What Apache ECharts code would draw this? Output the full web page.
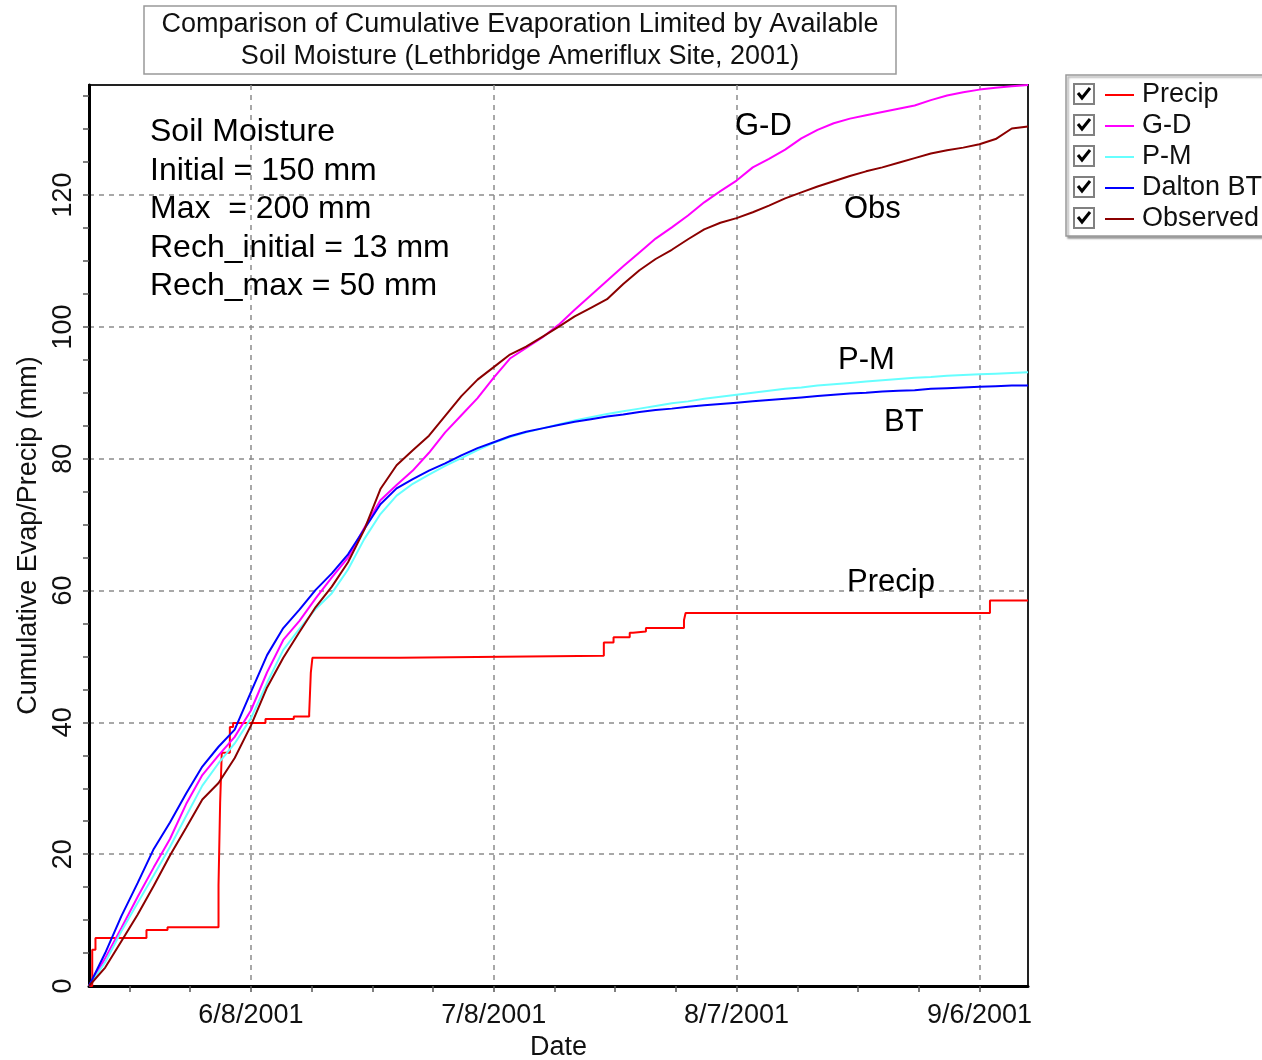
<!DOCTYPE html>
<html>
<head>
<meta charset="utf-8">
<script src="https://cdn.jsdelivr.net/npm/echarts@6/dist/echarts.min.js"></script>
<style>
  html, body { margin: 0; padding: 0; background: #fff; }
  #chart { width: 1262px; height: 1060px; }
</style>
</head>
<body>
<div id="chart"></div>
<script>
// Day of year 2001 (139 = May 19, 255 = Sep 12), sampled every two days
const evapDay = [139,141,143,145,147,149,151,153,155,157,159,161,163,165,167,169,171,173,175,177,
  179,181,183,185,187,189,191,193,195,197,199,201,203,205,207,209,211,213,215,217,
  219,221,223,225,227,229,231,233,235,237,239,241,243,245,247,249,251,253,255];

// Cumulative evaporation (mm)
const gd = [0,4.2,8.8,13.5,18.0,22.3,27.6,32.0,35.0,37.8,41.8,47.6,52.5,55.4,58.8,62.0,65.0,69.5,73.7,76.0,
  78.2,80.9,84.0,86.6,89.2,92.3,95.2,96.8,98.4,100.3,102.6,104.8,107.0,109.2,111.3,113.4,115.1,116.9,118.9,120.6,
  122.2,124.2,125.5,126.9,128.6,129.9,130.9,131.6,132.1,132.6,133.1,133.6,134.4,135.1,135.6,136.0,136.3,136.5,136.7];
const pm = [0,3.6,8.3,12.6,16.8,21.1,25.8,30.4,33.8,36.8,40.6,46.0,51.0,54.2,57.2,59.6,63.2,67.8,71.6,74.4,
  76.2,77.6,78.9,80.1,81.3,82.4,83.3,84.0,84.6,85.2,85.8,86.3,86.8,87.2,87.6,88.0,88.4,88.7,89.1,89.4,
  89.7,90.0,90.3,90.6,90.8,91.1,91.3,91.5,91.7,91.9,92.1,92.3,92.4,92.6,92.7,92.8,92.9,93.0,93.1];
const bt = [0,5.0,10.6,15.6,20.8,24.8,29.2,33.3,36.3,38.9,44.6,50.2,54.3,57.1,60.1,62.6,65.5,69.3,73.1,75.5,
  76.9,78.2,79.3,80.5,81.6,82.5,83.4,84.1,84.6,85.1,85.6,86.0,86.4,86.7,87.1,87.4,87.6,87.9,88.1,88.3,
  88.5,88.7,88.9,89.1,89.3,89.5,89.7,89.9,90.0,90.2,90.3,90.4,90.6,90.7,90.8,90.9,91.0,91.1,91.1];
const observed = [0,2.8,6.8,10.8,15.2,19.8,24.0,28.3,30.8,34.6,39.5,45.3,49.8,53.7,57.5,60.6,64.3,69.2,75.4,79.0,
  81.3,83.5,86.5,89.5,92.0,93.9,95.8,97.0,98.5,100.0,101.6,102.9,104.2,106.5,108.6,110.3,111.7,113.3,114.8,115.8,
  116.5,117.4,118.4,119.5,120.4,121.3,122.1,122.9,123.6,124.2,124.9,125.6,126.3,126.8,127.2,127.7,128.5,130.1,130.4];

// Cumulative precipitation (mm), one entry per rain step
const precipDay = [139,139.4,139.8,146.1,148.7,155.0,155.2,155.4,156.4,156.8,160.8,164.3,166.2,166.4,166.6,
  177.4,202.6,203.8,205.8,206.2,207.8,212.5,212.7,250.3,255];
const precipMm = [0,5.5,7.3,8.5,8.9,15.3,27.8,35.4,39.3,39.9,40.5,40.9,41.3,47.5,49.8,
  50.1,52.1,52.9,53.6,53.8,54.3,55.5,56.6,58.5,58.5];

// Axis ticks
const dateTicks = [159,189,219,249];
const dateMinorTicks = [144,151.5,159,166.5,174,181.5,189,196.5,204,211.5,219,226.5,234,241.5,249];
const mmTicks = [0,20,40,60,80,100,120];
const mmMinorTicks = [5,10,15,20,25,30,35,40,45,50,55,60,65,70,75,80,85,90,95,100,105,110,115,120,125,130,135];

const seriesNames = ['Precip','G-D','P-M','Dalton BT','Observed'];
const seriesColors = ['#ff0000','#ff00ff','#66ffff','#0000ff','#8b0000'];

const FONT = '"Liberation Sans", Arial, sans-serif';
const X_MIN = 139, X_MAX = 255, Y_MAX = 136.7;

function doyLabel(v) {
  const d = new Date(2001, 0, v);
  return (d.getMonth() + 1) + '/' + d.getDate() + '/2001';
}
function pairs(xs, ys) { return xs.map((x, i) => [x, ys[i]]); }

const axisText = { fontFamily: FONT, fontSize: 27, color: '#111' };
const dashed = { show: true, lineStyle: { color: '#8c8c8c', width: 1.5, type: [5, 5] } };

// Check boxes drawn beside the legend entries
const legendRows = [94, 125, 156, 187, 218];
const checkboxes = [];
legendRows.forEach(c => {
  checkboxes.push({
    type: 'rect', z: 200, zlevel: 1,
    shape: { x: 1074, y: c - 10, width: 20, height: 20 },
    style: { fill: '#fdfdfd', stroke: '#808080', lineWidth: 2 }
  });
  checkboxes.push({
    type: 'polyline', z: 201, zlevel: 1,
    shape: { points: [[1078, c - 1], [1082, c + 4], [1090, c - 6]] },
    style: { stroke: '#000', lineWidth: 3, fill: null }
  });
});

function note(text, x, y) {
  return { type: 'text', x: x, y: y, z: 50,
    style: { text: text, fontFamily: FONT, fontSize: 31, fill: '#000',
      verticalAlign: 'middle', align: 'left' } };
}

const chart = echarts.init(document.getElementById('chart'), null, { renderer: 'canvas' });
chart.setOption({
  animation: false,
  backgroundColor: '#fff',
  title: {
    text: 'Comparison of Cumulative Evaporation Limited by Available\nSoil Moisture (Lethbridge Ameriflux Site, 2001)',
    left: 502, top: 6, textAlign: 'center',
    padding: [2, 18, 1, 18],
    borderColor: '#999', borderWidth: 1.5,
    textStyle: { fontFamily: FONT, fontSize: 27, fontWeight: 'normal', color: '#111', lineHeight: 32.5 }
  },
  legend: {
    data: seriesNames,
    orient: 'vertical', left: 1066, top: 75,
    padding: [6, 20, 3, 39],
    itemGap: 3, itemWidth: 29, itemHeight: 2, icon: 'rect',
    backgroundColor: '#fff', borderColor: '#999', borderWidth: 1.5,
    shadowColor: 'rgba(0,0,0,0.35)', shadowOffsetX: 2, shadowOffsetY: 2, shadowBlur: 2,
    selectedMode: false,
    textStyle: { fontFamily: FONT, fontSize: 27, color: '#111', lineHeight: 28, padding: [0, 0, 0, 3] }
  },
  grid: {
    left: 89, right: 234, top: 85, bottom: 74,
    containLabel: false, outerBoundsMode: 'none',
    show: true, borderColor: '#222', borderWidth: 2, backgroundColor: '#fff'
  },
  xAxis: [
    {
      type: 'value', min: X_MIN, max: X_MAX,
      name: 'Date', nameLocation: 'middle', nameGap: 46, nameTextStyle: axisText,
      axisLine: { show: true, lineStyle: { color: '#000', width: 3 } },
      axisTick: { show: true, length: 6, lineStyle: { color: '#555', width: 1.5 }, customValues: dateMinorTicks },
      axisLabel: { ...axisText, margin: 16, customValues: dateTicks, formatter: doyLabel },
      splitLine: { show: false }
    },
    {
      type: 'value', min: X_MIN, max: X_MAX, position: 'top',
      axisLine: { show: false }, axisLabel: { show: false },
      axisTick: { show: false, customValues: dateTicks },
      splitLine: dashed
    }
  ],
  yAxis: [
    {
      type: 'value', min: 0, max: Y_MAX,
      name: 'Cumulative Evap/Precip (mm)', nameLocation: 'middle', nameGap: 47, nameRotate: 90,
      nameTextStyle: axisText,
      axisLine: { show: true, lineStyle: { color: '#000', width: 3 } },
      axisTick: { show: true, length: 6, lineStyle: { color: '#555', width: 1.5 }, customValues: mmMinorTicks },
      axisLabel: { ...axisText, rotate: 90, margin: 12, customValues: mmTicks },
      splitLine: { show: false }
    },
    {
      type: 'value', min: 0, max: Y_MAX, position: 'right',
      axisLine: { show: false }, axisLabel: { show: false },
      axisTick: { show: false, customValues: mmTicks.slice(1) },
      splitLine: dashed
    }
  ],
  series: [
    { name: 'Precip', type: 'line', step: 'end', data: pairs(precipDay, precipMm) },
    { name: 'G-D', type: 'line', data: pairs(evapDay, gd) },
    { name: 'P-M', type: 'line', data: pairs(evapDay, pm) },
    { name: 'Dalton BT', type: 'line', data: pairs(evapDay, bt) },
    { name: 'Observed', type: 'line', data: pairs(evapDay, observed) }
  ].map((s, i) => Object.assign(s, {
    xAxisIndex: 0, yAxisIndex: 0, showSymbol: false, symbol: 'none',
    color: seriesColors[i],
    lineStyle: { color: seriesColors[i], width: 2 },
    emphasis: { disabled: true }
  })),
  graphic: [
    {
      type: 'text', x: 150, y: 113, z: 50,
      style: {
        text: 'Soil Moisture\nInitial = 150 mm\nMax  = 200 mm\nRech_initial = 13 mm\nRech_max = 50 mm',
        fontFamily: FONT, fontSize: 32, lineHeight: 38.5, fill: '#000', align: 'left', verticalAlign: 'top'
      }
    },
    note('G-D', 735, 126),
    note('Obs', 844, 209),
    note('P-M', 838, 360),
    note('BT', 884, 422),
    note('Precip', 847, 582)
  ].concat(checkboxes)
});
</script>
</body>
</html>
